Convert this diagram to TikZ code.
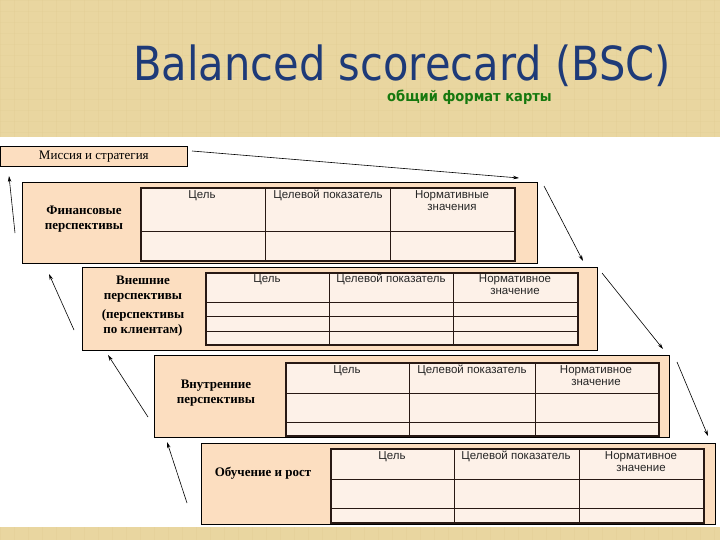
\documentclass[tikz,border=0pt]{standalone}
\usepackage{fontspec}
\setmainfont{Liberation Serif}
\newfontfamily\titlefont{DejaVu Sans}
\newfontfamily\cellfont{Liberation Sans}
\usetikzlibrary{arrows.meta}
\definecolor{tan}{RGB}{233,214,160}
\definecolor{tandark}{RGB}{222,200,142}
\definecolor{peach}{RGB}{252,222,192}
\definecolor{cellbg}{RGB}{253,241,232}
\definecolor{titleblue}{RGB}{30,58,120}
\definecolor{subgreen}{RGB}{22,120,14}
\definecolor{rule}{RGB}{40,25,20}
\tikzset{
  panel/.style={draw=black,line width=0.7pt,fill=peach,anchor=north west,inner sep=0pt},
  tbl/.style={draw=rule,line width=1.8pt,fill=cellbg,anchor=north west,inner sep=0pt},
  grid/.style={draw=rule,line width=0.9pt},
  head/.style={font=\cellfont\fontsize{11.5}{12}\selectfont,anchor=north,align=center,inner sep=0pt,text=black!85},
  lbl/.style={font=\bfseries\fontsize{13}{14.5}\selectfont,align=center,inner sep=0pt},
  conn/.style={line width=0.6pt,-{Stealth[length=6pt,width=3.5pt]}}
}
\begin{document}
\begin{tikzpicture}[x=1pt,y=-1pt]
\useasboundingbox (0,0) rectangle (720,540);
\fill[tan] (0,0) rectangle (720,540);
\foreach \xx in {0,14,...,720} \draw[tandark,line width=0.4pt,opacity=0.25] (\xx,0) -- (\xx,137) (\xx,527) -- (\xx,540);
\foreach \yy in {0,11,...,132} \draw[tandark,line width=0.3pt,opacity=0.2] (0,\yy) -- (720,\yy);
\fill[white] (0,137) rectangle (720,527);
% title
\node[font=\titlefont\fontsize{47}{50}\selectfont,text=titleblue,anchor=base,xscale=0.885,inner sep=0pt] (title) at (402,81) {Balanced scorecard (BSC)};
\node[font=\titlefont\bfseries\fontsize{14.5}{15}\selectfont,text=subgreen,anchor=base west,xscale=0.9,inner sep=0pt] (sub) at (387,102) {общий формат карты};
% mission
\node[panel,minimum width=187,minimum height=20] (mis) at (0,146) {};
\node[font=\fontsize{13}{14}\selectfont,inner sep=0pt] (mist) at (mis.center) {Миссия и стратегия};
% panel 1
\node[panel,minimum width=515,minimum height=81] (p1) at (22,182) {};
\node[tbl,minimum width=374,minimum height=73] (t1) at (140,187) {};
\draw[grid] (265,187) -- (265,260) (390,187) -- (390,260) (140,231) -- (514,231);
\node[head] (h11) at (202,190) {Цель};
\node[head] (h12) at (328,190) {Целевой показатель};
\node[head] (h13) at (452,190) {Нормативные\\значения};
\node[lbl] (l1) at (84,219) {Финансовые\\перспективы};
% panel 2
\node[panel,minimum width=515,minimum height=83] (p2) at (82,267) {};
\node[tbl,minimum width=372,minimum height=72] (t2) at (205,272) {};
\draw[grid] (329,272) -- (329,344) (453,272) -- (453,344) (205,302) -- (577,302) (205,316) -- (577,316) (205,331) -- (577,331);
\node[head] (h21) at (267,274) {Цель};
\node[head] (h22) at (391,274) {Целевой показатель};
\node[head] (h23) at (515,274) {Нормативное\\значение};
\node[lbl] (l2) at (143,289) {Внешние\\перспективы};
\node[lbl] (l2b) at (143,323) {(перспективы\\по клиентам)};
% panel 3
\node[panel,minimum width=515,minimum height=82] (p3) at (154,355) {};
\node[tbl,minimum width=373,minimum height=73] (t3) at (285,362) {};
\draw[grid] (409,362) -- (409,435) (535,362) -- (535,435) (285,393) -- (658,393) (285,422) -- (658,422);
\node[head] (h31) at (347,365) {Цель};
\node[head] (h32) at (472,365) {Целевой показатель};
\node[head] (h33) at (596,365) {Нормативное\\значение};
\node[lbl] (l3) at (216,393) {Внутренние\\перспективы};
% panel 4
\node[panel,minimum width=514,minimum height=81] (p4) at (201,443) {};
\node[tbl,minimum width=373,minimum height=74] (t4) at (330,448) {};
\draw[grid] (454,448) -- (454,522) (579,448) -- (579,522) (330,479) -- (703,479) (330,508) -- (703,508);
\node[head] (h41) at (392,451) {Цель};
\node[head] (h42) at (516,451) {Целевой показатель};
\node[head] (h43) at (641,451) {Нормативное\\значение};
\node[lbl] (l4) at (263,473) {Обучение и рост};
% connector end points
\coordinate (a1s) at (192,151); \coordinate (a1e) at (519,178);
\coordinate (a2s) at (544,186); \coordinate (a2e) at (583,261);
\coordinate (a3s) at (602,273); \coordinate (a3e) at (663,349);
\coordinate (a4s) at (677,362); \coordinate (a4e) at (708,436);
\coordinate (b1s) at (15,233); \coordinate (b1e) at (9,176);
\coordinate (b2s) at (74,330); \coordinate (b2e) at (49,274);
\coordinate (b3s) at (148,417); \coordinate (b3e) at (108,355);
\coordinate (b4s) at (187,503); \coordinate (b4e) at (167,442);
\foreach \n in {a1,a2,a3,a4,b1,b2,b3,b4} \draw[conn] (\n s) -- (\n e);
\end{tikzpicture}
\end{document}
